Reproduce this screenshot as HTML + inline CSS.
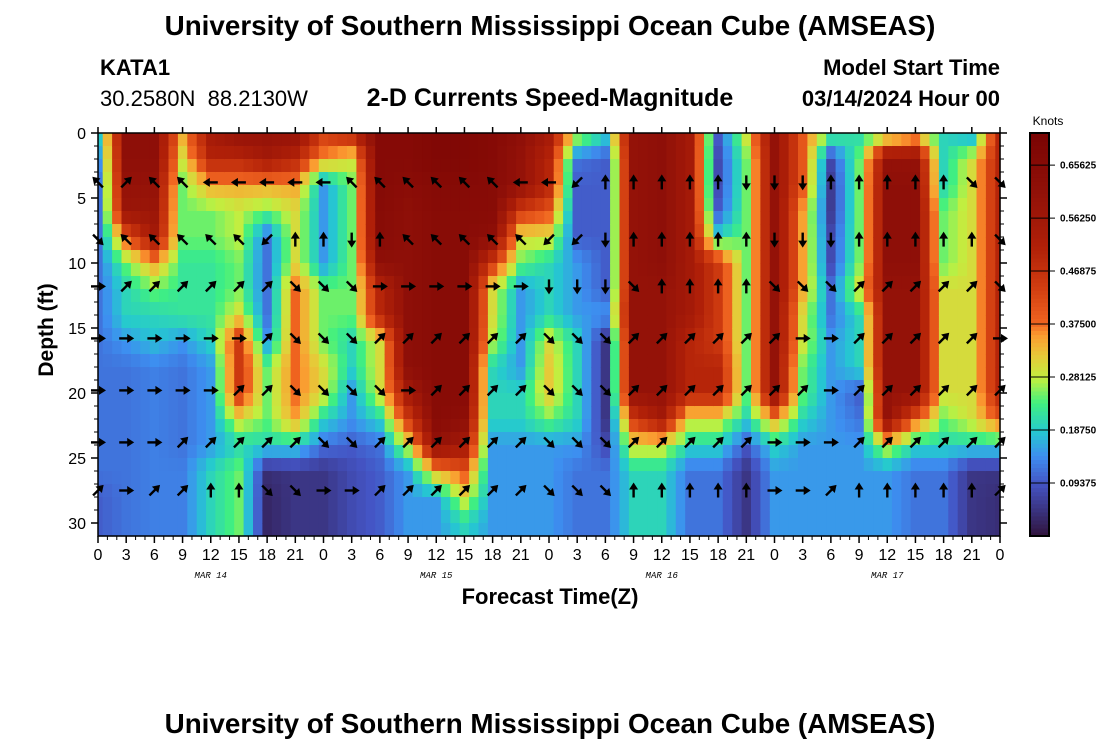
<!DOCTYPE html>
<html><head><meta charset="utf-8">
<style>
body{margin:0;background:#fff;}
svg{display:block;font-family:"Liberation Sans",Arial,sans-serif;}
</style></head>
<body>
<svg id="chart" width="1100" height="750" viewBox="0 0 1100 750">
<rect width="1100" height="750" fill="#fff"/>
<text x="550" y="35" text-anchor="middle" font-size="27.8" font-weight="bold">University of Southern Mississippi Ocean Cube (AMSEAS)</text>
<text x="100" y="75" font-size="22" font-weight="bold">KATA1</text>
<text x="100" y="106" font-size="22" xml:space="preserve">30.2580N  88.2130W</text>
<text x="550" y="106" text-anchor="middle" font-size="25" font-weight="bold">2-D Currents Speed-Magnitude</text>
<text x="1000" y="75" text-anchor="end" font-size="22" font-weight="bold">Model Start Time</text>
<text x="1000" y="106" text-anchor="end" font-size="22" font-weight="bold">03/14/2024 Hour 00</text>
<g id="heat"></g>
<g id="arrows"></g>
<g id="axes"></g>
<text transform="translate(53,330) rotate(-90)" text-anchor="middle" font-size="21" font-weight="bold">Depth (ft)</text>
<text x="550" y="604" text-anchor="middle" font-size="22" font-weight="bold">Forecast Time(Z)</text>
<text x="1048" y="125" text-anchor="middle" font-size="12">Knots</text>
<g id="cbar"></g>
<text x="550" y="733" text-anchor="middle" font-size="27.8" font-weight="bold">University of Southern Mississippi Ocean Cube (AMSEAS)</text>
</svg>
<script>
// Forecast hours (columns every 3h) and depth levels (every 2 ft)
const hours = [0,3,6,9,12,15,18,21,24,27,30,33,36,39,42,45,48,51,54,57,60,63,66,69,72,75,78,81,84,87,90,93,96];
const depths = [0,2,4,6,8,10,12,14,16,18,20,22,24,26,28,30];
const xTickLabels = ["0","3","6","9","12","15","18","21","0","3","6","9","12","15","18","21","0","3","6","9","12","15","18","21","0","3","6","9","12","15","18","21","0"];
const yTickLabels = [0,5,10,15,20,25,30];
const dateLabels = ["MAR 14","MAR 15","MAR 16","MAR 17"];
const dateHours = [12,36,60,84];
const cbarTicks = [0.09375,0.1875,0.28125,0.375,0.46875,0.5625,0.65625];
// speed (knots): one array per forecast column, values from surface to 30 ft
const speed = [
[0.2,0.15,0.12,0.12,0.12,0.12,0.12,0.12,0.12,0.12,0.12,0.12,0.12,0.12,0.1,0.1],
[0.62,0.62,0.6,0.58,0.4,0.25,0.2,0.2,0.15,0.12,0.12,0.12,0.12,0.12,0.12,0.12],
[0.62,0.62,0.6,0.58,0.55,0.35,0.25,0.2,0.18,0.13,0.13,0.13,0.13,0.13,0.13,0.13],
[0.35,0.3,0.25,0.25,0.25,0.22,0.22,0.22,0.15,0.12,0.12,0.12,0.12,0.13,0.13,0.13],
[0.55,0.5,0.35,0.25,0.25,0.22,0.22,0.22,0.2,0.15,0.15,0.15,0.15,0.2,0.2,0.2],
[0.6,0.5,0.35,0.28,0.28,0.25,0.25,0.3,0.45,0.45,0.45,0.3,0.2,0.25,0.25,0.25],
[0.6,0.55,0.35,0.25,0.12,0.12,0.12,0.12,0.15,0.25,0.25,0.25,0.2,0.04,0.03,0.03],
[0.6,0.5,0.35,0.3,0.3,0.3,0.38,0.38,0.38,0.38,0.38,0.35,0.2,0.05,0.05,0.05],
[0.45,0.35,0.15,0.15,0.15,0.15,0.25,0.25,0.25,0.3,0.3,0.2,0.12,0.05,0.05,0.05],
[0.5,0.3,0.25,0.25,0.25,0.25,0.25,0.25,0.2,0.2,0.15,0.15,0.1,0.08,0.08,0.08],
[0.66,0.66,0.66,0.65,0.65,0.62,0.5,0.5,0.3,0.3,0.3,0.2,0.12,0.1,0.1,0.1],
[0.66,0.66,0.64,0.62,0.62,0.62,0.62,0.62,0.62,0.62,0.55,0.45,0.3,0.15,0.15,0.15],
[0.68,0.68,0.66,0.65,0.65,0.65,0.65,0.65,0.65,0.65,0.65,0.65,0.6,0.35,0.15,0.15],
[0.68,0.68,0.66,0.65,0.65,0.65,0.65,0.65,0.65,0.65,0.65,0.62,0.55,0.4,0.3,0.2],
[0.66,0.66,0.65,0.65,0.62,0.45,0.3,0.3,0.28,0.2,0.2,0.2,0.15,0.15,0.15,0.15],
[0.62,0.6,0.6,0.45,0.3,0.25,0.15,0.15,0.15,0.15,0.2,0.2,0.15,0.15,0.15,0.15],
[0.55,0.5,0.5,0.4,0.3,0.2,0.2,0.2,0.3,0.32,0.32,0.25,0.15,0.15,0.15,0.15],
[0.3,0.12,0.1,0.1,0.1,0.15,0.15,0.15,0.2,0.2,0.2,0.2,0.15,0.12,0.12,0.12],
[0.2,0.1,0.1,0.1,0.1,0.1,0.1,0.15,0.05,0.05,0.05,0.05,0.08,0.12,0.12,0.12],
[0.6,0.6,0.6,0.6,0.6,0.6,0.6,0.6,0.6,0.6,0.6,0.45,0.3,0.2,0.2,0.2],
[0.62,0.62,0.62,0.62,0.62,0.62,0.6,0.6,0.6,0.6,0.6,0.55,0.3,0.2,0.2,0.2],
[0.55,0.55,0.55,0.55,0.55,0.55,0.55,0.55,0.5,0.5,0.5,0.3,0.2,0.12,0.12,0.12],
[0.1,0.08,0.08,0.1,0.2,0.45,0.45,0.45,0.45,0.5,0.5,0.3,0.2,0.12,0.12,0.12],
[0.3,0.25,0.25,0.25,0.25,0.25,0.25,0.25,0.25,0.25,0.25,0.2,0.1,0.05,0.05,0.05],
[0.6,0.6,0.6,0.6,0.6,0.6,0.6,0.6,0.6,0.6,0.6,0.35,0.2,0.15,0.15,0.15],
[0.4,0.4,0.4,0.35,0.35,0.35,0.35,0.3,0.3,0.25,0.25,0.2,0.15,0.15,0.15,0.15],
[0.25,0.08,0.06,0.06,0.08,0.08,0.12,0.12,0.15,0.15,0.15,0.15,0.15,0.15,0.15,0.15],
[0.2,0.25,0.25,0.25,0.25,0.25,0.3,0.2,0.2,0.2,0.1,0.12,0.15,0.15,0.15,0.15],
[0.25,0.6,0.62,0.62,0.62,0.62,0.6,0.6,0.6,0.6,0.6,0.6,0.3,0.15,0.15,0.15],
[0.3,0.6,0.62,0.62,0.62,0.62,0.6,0.6,0.6,0.6,0.6,0.4,0.2,0.12,0.12,0.12],
[0.2,0.2,0.2,0.25,0.25,0.25,0.3,0.3,0.3,0.3,0.3,0.25,0.2,0.12,0.12,0.12],
[0.15,0.3,0.3,0.3,0.3,0.3,0.3,0.3,0.3,0.3,0.3,0.3,0.2,0.05,0.05,0.05],
[0.5,0.5,0.5,0.5,0.5,0.5,0.5,0.5,0.5,0.5,0.5,0.4,0.2,0.05,0.04,0.04]
];
// arrow depth rows and directions (compass codes) per column
const arrowDepths = [3.8,8.2,11.8,15.8,19.8,23.8,27.5];
const dir0 = ["NW","NE","NW","NW","W","W","W","W","W","NW","NW","NW","NW","NW","NW","W","W","SW","N","N","N","N","N","S","S","S","N","N","N","N","N","SE","SE"];
const dir1 = ["SE","NW","NW","NW","NW","NW","SW","N","N","S","N","NW","NW","NW","NW","NW","SW","SW","S","N","N","N","N","N","S","S","S","N","N","N","N","N","SE"];
const dir2 = ["E","NE","NE","NE","NE","NE","NE","SE","SE","SE","E","E","E","E","E","E","S","S","S","SE","N","N","N","N","SE","SE","SE","NE","NE","NE","NE","NE","SE"];
const dir3 = ["E","E","E","E","E","E","NE","SE","SE","SE","NE","NE","NE","NE","NE","NE","SE","SE","SE","NE","NE","NE","NE","NE","NE","E","E","NE","NE","NE","NE","NE","E"];
const dir4 = ["E","E","E","E","E","NE","NE","SE","SE","SE","SE","E","NE","NE","NE","NE","SE","SE","SE","NE","NE","NE","NE","NE","NE","NE","E","NE","NE","NE","NE","NE","NE"];
const dir5 = ["E","E","E","NE","NE","NE","NE","NE","SE","SE","NE","NE","NE","NE","NE","NE","SE","SE","SE","NE","NE","NE","NE","NE","E","E","E","NE","NE","NE","NE","NE","NE"];
const dir6 = ["NE","E","NE","NE","N","N","SE","SE","E","E","NE","NE","NE","NE","NE","NE","SE","SE","SE","N","N","N","N","N","E","E","NE","N","N","N","N","N","NE"];
const arrowDirs = [dir0,dir1,dir2,dir3,dir4,dir5,dir6];

const X0=98, X1=1000, Y0=133, YB=536, DMAX=31, HMAX=96, VMAX=0.713;
const xs = h => X0 + (X1-X0)*h/HMAX;
const ys = d => Y0 + (YB-Y0)*d/DMAX;
const NS="http://www.w3.org/2000/svg";
const stops=[[0,[48,18,59]],[0.13,[68,84,196]],[0.2,[61,143,240]],[0.26,[37,200,208]],[0.33,[64,240,128]],[0.39,[192,240,64]],[0.45,[232,200,56]],[0.5,[251,154,48]],[0.53,[240,100,32]],[0.62,[208,60,16]],[0.72,[176,32,8]],[0.86,[144,16,8]],[1,[122,4,3]]];
function color(v){
  let t=Math.max(0,Math.min(1,v/VMAX));
  for(let i=1;i<stops.length;i++){
    if(t<=stops[i][0]){
      const a=stops[i-1],b=stops[i],f=(t-a[0])/(b[0]-a[0]);
      const c=a[1].map((q,k)=>Math.round(q+(b[1][k]-q)*f));
      return `rgb(${c[0]},${c[1]},${c[2]})`;
    }
  }
  return "rgb(122,4,3)";
}
function sample(h,d){
  let ci=Math.min(hours.length-2,Math.floor(h/3)), fx=(h-hours[ci])/3;
  let dd=Math.min(d,30), ri=Math.min(depths.length-2,Math.floor(dd/2)), fy=(dd-depths[ri])/2;
  const a=speed[ci][ri],b=speed[ci+1][ri],c=speed[ci][ri+1],e=speed[ci+1][ri+1];
  return (a*(1-fx)+b*fx)*(1-fy)+(c*(1-fx)+e*fx)*fy;
}
const heat=document.getElementById('heat');
for(let h=0;h<=HMAX;h++){
  for(let d=0;d<DMAX;d++){
    const r=document.createElementNS(NS,'rect');
    const xa=Math.max(X0,xs(h-0.5)), xb=Math.min(X1,xs(h+0.5));
    r.setAttribute('x',xa.toFixed(1));
    r.setAttribute('y',ys(d).toFixed(1));
    r.setAttribute('width',(xb-xa+0.6).toFixed(1));
    r.setAttribute('height',(ys(d+1)-ys(d)+0.6).toFixed(1));
    r.setAttribute('fill',color(sample(h,d+0.5)));
    
    
    heat.appendChild(r);
  }
}
// arrows
const ang={N:-90,NE:-45,E:0,SE:45,S:90,SW:135,W:180,NW:-135};
const arr=document.getElementById('arrows');
arrowDirs.forEach((row,ri)=>{
  row.forEach((dc,ci)=>{
    const g=document.createElementNS(NS,'g');
    g.setAttribute('transform',`translate(${xs(hours[ci]).toFixed(1)},${ys(arrowDepths[ri]).toFixed(1)}) rotate(${ang[dc]})`);
    
    
    g.innerHTML='<line x1="-7" y1="0" x2="3" y2="0" stroke="#000" stroke-width="2.4"/><polygon points="8,0 1,-4.5 1,4.5" fill="#000"/>';
    arr.appendChild(g);
  });
});
// axes
const ax=document.getElementById('axes');
let s='';
s+=`<rect x="${X0}" y="${Y0}" width="${X1-X0}" height="${YB-Y0}" fill="none" stroke="#000" stroke-width="1.5"/>`;
hours.forEach((h,i)=>{
  const x=xs(h);
  s+=`<line x1="${x}" y1="${YB}" x2="${x}" y2="${YB+7}" stroke="#000" stroke-width="1.5"/>`;
  s+=`<line x1="${x}" y1="${Y0}" x2="${x}" y2="${Y0-6}" stroke="#000" stroke-width="1.5"/>`;
  s+=`<text x="${x}" y="${YB+24}" text-anchor="middle" font-size="16">${xTickLabels[i]}</text>`;
});
for(let h=1;h<HMAX;h++){ if(h%3){const x=xs(h); s+=`<line x1="${x}" y1="${YB}" x2="${x}" y2="${YB+4}" stroke="#000"/>`;} }
yTickLabels.forEach(d=>{
  const y=ys(d);
  s+=`<line x1="${X0-7}" y1="${y}" x2="${X0}" y2="${y}" stroke="#000" stroke-width="1.5"/>`;
  s+=`<line x1="${X1}" y1="${y}" x2="${X1+7}" y2="${y}" stroke="#000" stroke-width="1.5"/>`;
  s+=`<text x="${X0-12}" y="${y+6}" text-anchor="end" font-size="16">${d}</text>`;
});
for(let d=1;d<DMAX;d++){ if(d%5){const y=ys(d); s+=`<line x1="${X0-4}" y1="${y}" x2="${X0}" y2="${y}" stroke="#000"/><line x1="${X1}" y1="${y}" x2="${X1+4}" y2="${y}" stroke="#000"/>`;} }
dateLabels.forEach((l,i)=>{
  s+=`<text x="${xs(dateHours[i])}" y="578" text-anchor="middle" font-size="9" font-style="italic" font-family="Liberation Mono, monospace">${l}</text>`;
});
ax.innerHTML=s;
// colorbar
const cb=document.getElementById('cbar');
let c='';
const CX=1030,CW=19,CT=133,CB=536;
for(let i=0;i<100;i++){
  const v=VMAX*(i+0.5)/100, y=CB-(CB-CT)*(i+1)/100;
  c+=`<rect x="${CX}" y="${y.toFixed(1)}" width="${CW}" height="${((CB-CT)/100+0.6).toFixed(1)}" fill="${color(v)}"/>`;
}
c+=`<rect x="${CX}" y="${CT}" width="${CW}" height="${CB-CT}" fill="none" stroke="#000" stroke-width="2"/>`;
cbarTicks.forEach(v=>{
  const y=CB-(CB-CT)*v/VMAX;
  c+=`<line x1="${CX}" y1="${y}" x2="${CX+CW+6}" y2="${y}" stroke="#000"/>`;
  c+=`<text x="${CX+CW+11}" y="${y+3.5}" font-size="10" font-weight="bold">${v.toFixed(5)}</text>`;
});
cb.innerHTML=c;
</script>
</body></html>
